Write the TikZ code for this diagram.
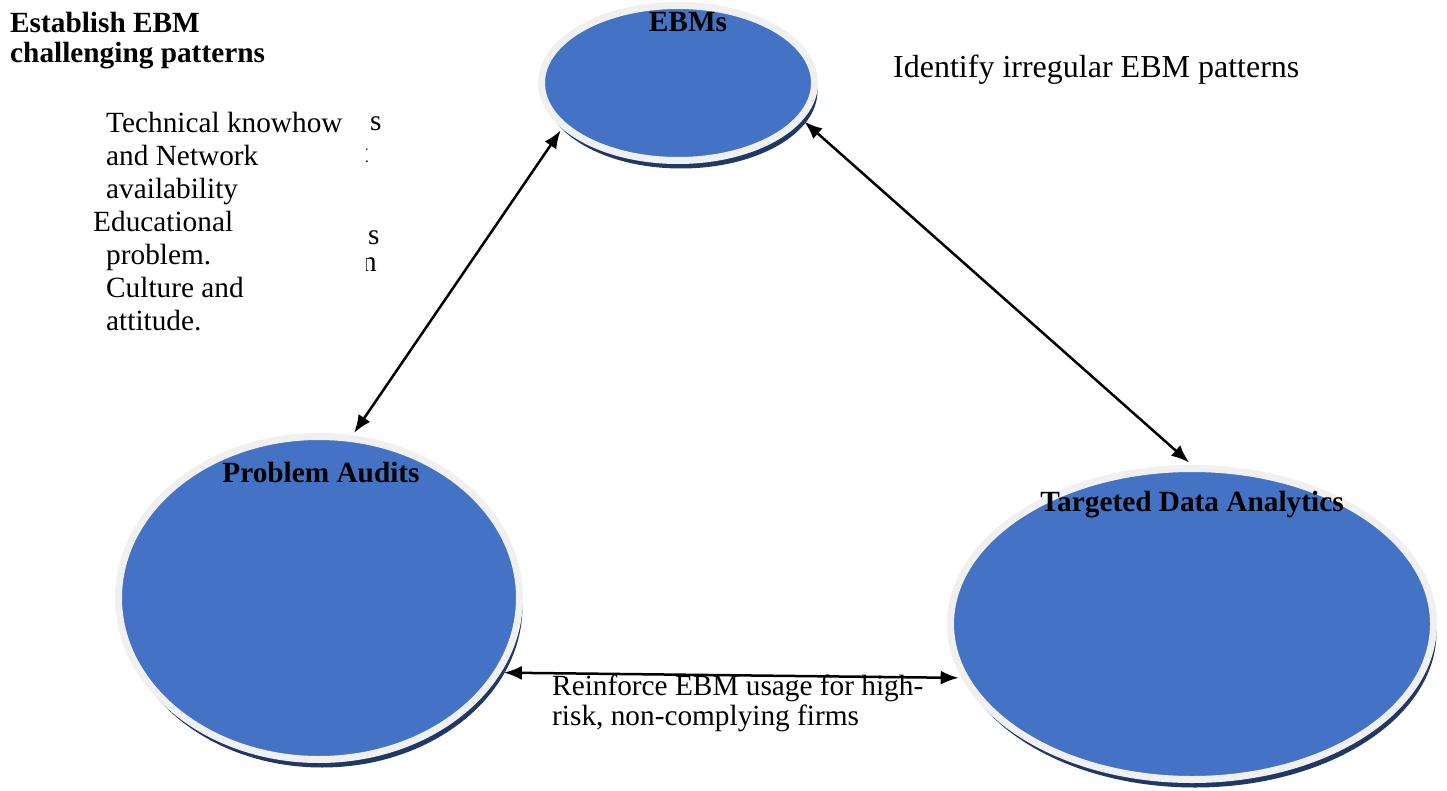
\documentclass[tikz,border=0pt]{standalone}
\usepackage{fontspec}
\setmainfont{Liberation Serif}
\usetikzlibrary{arrows.meta,positioning,shadows,shapes.geometric}

\definecolor{hubblue}{HTML}{4472C4}
\definecolor{hubrim}{HTML}{F0F0F0}
\definecolor{hubshadow}{HTML}{203864}

\newcommand{\txtsize}{\fontsize{29.3}{33}\selectfont}

\begin{document}
\begin{tikzpicture}[x=1pt, y=-1pt, line join=round,
  hub/.style={ellipse, fill=hubblue, draw=hubrim, line width=7pt, inner sep=0pt, outer sep=6pt,
    drop shadow={shadow xshift=3pt, shadow yshift=-8pt, fill=hubshadow, opacity=1}},
  hubname/.style={font=\fontsize{29.3}{30}\selectfont\bfseries, inner sep=0pt},
  note/.style={font=\txtsize, inner sep=0pt, anchor=north west, align=left},
  stub/.style={font=\txtsize, inner sep=0pt, anchor=base west},
  link/.style={line width=2.5pt, <->, >={Latex[length=18pt,width=14pt]}}]

\useasboundingbox (0,0) rectangle (1447,791);

% three hubs
\node[hub, minimum width=273pt, minimum height=155pt] (ebm) at (678,83)   {};
\node[hub, minimum width=401pt, minimum height=323pt] (pa)  at (319,598)  {};
\node[hub, minimum width=483pt, minimum height=311pt] (tda) at (1192,624) {};

\node[hubname, below=12.5pt of ebm.north, xshift=10pt] (ebmname) {EBMs};
\node[hubname, below=31.5pt of pa.north,  xshift=2pt]  (paname)  {Problem Audits};
\node[hubname, below=28.5pt of tda.north]              (tdaname) {Targeted Data Analytics};

% links between hubs
\draw[link] (ebm.202.5) -- (pa.78.7);
\draw[link] (ebm.343)   -- (tda.91.4);
\draw[link] (pa.338.6)  -- (tda.193.2);

% notes
\node[note, font=\fontsize{29.3}{29.5}\selectfont\bfseries] (goal) at (10,12)
  {Establish EBM\\challenging patterns};
\node[note] (barriers) at (106,112)
  {Technical knowhow\\and Network\\availability\\\hspace*{-13pt}Educational\\problem.\\Culture and\\attitude.};
\node[note, font=\fontsize{32}{36}\selectfont] (identify) at (893,55)
  {Identify irregular EBM patterns};
\node[note, font=\fontsize{29.3}{30}\selectfont] (reinforce) at (552,675)
  {Reinforce EBM usage for high-\\risk, non-complying firms};

% cut-off letters behind the barrier list
\begin{scope}
  \clip (366,100) rectangle (400,290);
  \node[stub] (cut1) at (370,131) {s};
  \node[stub] (cut2) at (360,163) {t};
  \node[stub] (cut3) at (368,245) {s};
  \node[stub] (cut4) at (362,272) {n};
\end{scope}
\end{tikzpicture}
\end{document}
